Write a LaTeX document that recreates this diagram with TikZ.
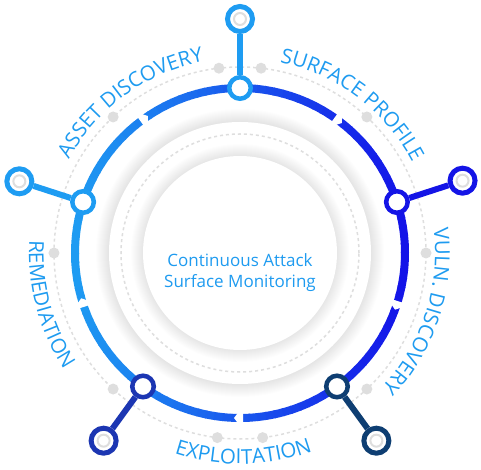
\documentclass[tikz,border=0pt]{standalone}
\usepackage{fontspec}
\setmainfont{Open Sans}
\usetikzlibrary{decorations.text}

\definecolor{ringL}{HTML}{1E9CF2}
\definecolor{ringR}{HTML}{1414E8}
\definecolor{labelblue}{HTML}{1E9BF0}
\definecolor{dotgray}{HTML}{DEDEDE}
\definecolor{cTop}{HTML}{1E9CF2}
\definecolor{cLeft}{HTML}{1E9CF2}
\definecolor{cRight}{HTML}{1414E6}
\definecolor{cBotL}{HTML}{1C36B2}
\definecolor{cBotR}{HTML}{0E3E72}

\newcommand{\labelfont}{\fontsize{20.5}{20.5}\selectfont}

\tikzset{
  ring/.style={line width=8pt},
  ringnode/.style={circle, fill=white, line width=4.5pt, minimum size=21.5pt, inner sep=0pt},
  tipnode/.style={circle, fill=white, line width=5pt, minimum size=25pt, inner sep=0pt},
  spoke/.style={line width=6pt},
  tipring/.style={draw=dotgray, line width=2pt},
  guide/.style={draw=dotgray, line width=1.5pt, dash pattern=on 3pt off 3pt},
  guidedot/.style={fill=dotgray},
  arclabel/.style={decorate, decoration={text along path, text align=center, text color=labelblue}}
}

\begin{document}
\begin{tikzpicture}[x=1pt,y=1pt]
\useasboundingbox (-240,-217) rectangle (241,253);

\foreach \i in {1,...,13} \fill[black, opacity=0.008] (0,0) circle (131+\i);
\fill[white] (0,0) circle (131);
\draw[guide] (0,0) circle (119);
\foreach \i in {1,...,12} \fill[black, opacity=0.008] (0,0) circle (97+\i);
\fill[white] (0,0) circle (97);

\draw[guide] (0,0) circle (186);
\foreach \d in {0,47,83.5,96.5,133,180,227,263,277,313} \fill[guidedot] (\d:186) circle (5.5);

\foreach \a [evaluate=\a as \p using {int(50-50*cos(\a+1.5))}] in {0,3,...,357}
  \draw[ring, ringL!\p!ringR] (\a:165) arc[start angle=\a, end angle=\a+3.4, radius=165];
\foreach \m in {126,54,-18,-90,198}
  \fill[white, rotate=\m] (159,3) -- (171,3) -- (171,-1.5) -- (165,-6) -- (159,-1.5) -- cycle;

\path[arclabel, decoration={text={|\labelfont|ASSET DISCOVERY}}] (166:195) arc[start angle=166, end angle=86, radius=195];
\path[arclabel, decoration={text={|\labelfont|SURFACE PROFILE}}] (93:195) arc[start angle=93, end angle=13, radius=195];
\path[arclabel, decoration={text={|\labelfont|VULN. DISCOVERY}}] (22:195) arc[start angle=22, end angle=-58, radius=195];
\path[arclabel, decoration={text={|\labelfont|REMEDIATION}}] (155:211) arc[start angle=155, end angle=235, radius=211];
\path[arclabel, decoration={text={|\labelfont|EXPLOITATION}}] (231:211) arc[start angle=231, end angle=311, radius=211];

\node[text=labelblue, align=center, font=\fontsize{17}{21}\selectfont] (title) at (0,-20) {Continuous Attack\\Surface Monitoring};

\node[ringnode, draw=cTop] (rTop) at (90:165) {};
\node[ringnode, draw=cLeft] (rLeft) at (162:165) {};
\node[ringnode, draw=cRight] (rRight) at (18:165) {};
\node[ringnode, draw=cBotL] (rBotL) at (234:165) {};
\node[ringnode, draw=cBotR] (rBotR) at (306:165) {};

\node[tipnode, draw=cTop] (oTop) at (90:234) {};
\node[tipnode, draw=cLeft] (oLeft) at (162:232) {};
\node[tipnode, draw=cRight] (oRight) at (18:234) {};
\node[tipnode, draw=cBotL] (oBotL) at (234:232) {};
\node[tipnode, draw=cBotR] (oBotR) at (306:232) {};

\draw[spoke, cTop] (rTop) -- (oTop);
\draw[spoke, cLeft] (rLeft) -- (oLeft);
\draw[spoke, cRight] (rRight) -- (oRight);
\draw[spoke, cBotL] (rBotL) -- (oBotL);
\draw[spoke, cBotR] (rBotR) -- (oBotR);

\draw[tipring] (oTop) circle (6);
\draw[tipring] (oLeft) circle (6);
\draw[tipring] (oRight) circle (6);
\draw[tipring] (oBotL) circle (6);
\draw[tipring] (oBotR) circle (6);
\end{tikzpicture}
\end{document}
